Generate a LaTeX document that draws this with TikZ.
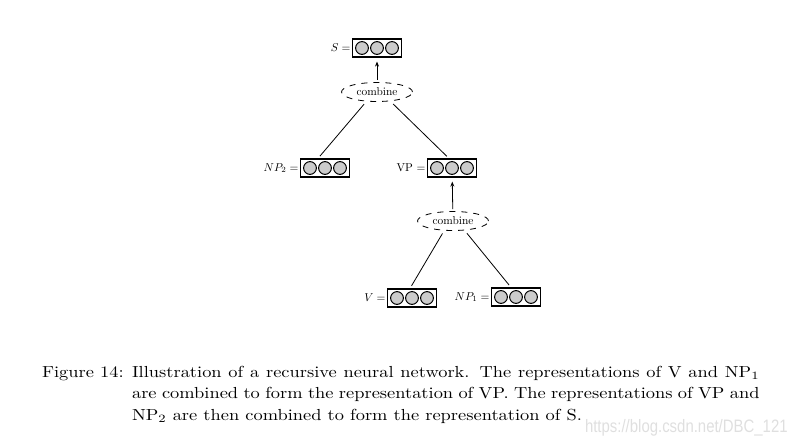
\documentclass[tikz,border=0pt]{standalone}
\usepackage{fontspec}
\newfontfamily\wmfont{Liberation Sans}
\usetikzlibrary{shapes.geometric,arrows.meta}
\tikzset{
  vec/.style={draw,line width=.6pt,minimum width=24.5pt,minimum height=9pt,inner sep=0pt},
  unit/.style={draw,line width=.5pt,fill=gray!40},
  comb/.style={draw,dashed,ellipse,minimum width=35.5pt,minimum height=9.5pt,inner sep=0pt},
  small/.style={scale=.57,transform shape},
  lab/.style={small,inner sep=1pt},
  capfont/.style={xscale=.92,yscale=.8,transform shape,inner sep=0pt,font=\fontsize{10}{13.3}\selectfont},
  link/.style={shorten <=1.5pt,shorten >=1.5pt},
  up/.style={-{Stealth[length=2.5pt,width=2pt]},shorten <=1pt,shorten >=2pt}
}
\begin{document}
\begin{tikzpicture}[x=.5pt,y=-.5pt,line width=.4pt]
  \useasboundingbox (0,0) rectangle (797,445);
  % vectors and combiners
  \node[vec,label={[lab]left:$S =$}] (S) at (377,48) {};
  \node[comb] (top) at (377,92) {};
  \node[small] at (top) {combine};
  \node[vec,label={[lab]left:$NP_2 =$}] (NP2) at (325,168) {};
  \node[vec,label={[lab]left:VP $=$}] (VP) at (452,168) {};
  \node[comb] (mid) at (453,221) {};
  \node[small] at (mid) {combine};
  \node[vec,label={[lab]left:$V =$}] (V) at (412,298) {};
  \node[vec,label={[lab]left:$NP_1 =$}] (NP1) at (516,297) {};
  % units
  \foreach \n in {S,NP2,VP,V,NP1}
    \foreach \i in {-1,0,1}
      \draw[unit] ([xshift=\i*7.5pt]\n.center) circle (3.2pt);
  % edges
  \draw[link] ([xshift=-3.5pt]NP2.north) -- ([xshift=-5.5pt]top.south);
  \draw[link] ([xshift=-1.5pt]VP.north) -- ([xshift=7pt]top.south);
  \draw[link] ([xshift=-1pt]V.north) -- ([xshift=-4.5pt]mid.south);
  \draw[link] ([xshift=-2.5pt]NP1.north) -- ([xshift=6pt]mid.south);
  \draw[up] (top) -- (S);
  \draw[up] (mid) -- (VP);
  % caption
  \node[capfont,anchor=base west] (fig) at (41.7,377.5) {Figure 14:};
  \node[capfont,anchor=base west,text width=341pt,align=justify] (cap) at (131.7,377.5)
    {Illustration of a recursive neural network.  The representations of V and NP$_1$\linebreak
     are combined to form the representation of VP. The representations of VP and\linebreak
     NP$_2$ are then combined to form the representation of S.};
  \node[anchor=base east,inner sep=0pt,xscale=.83,transform shape,text=gray!25,font=\wmfont\fontsize{9}{10}\selectfont] (wm) at (788,432) {https://blog.csdn.net/DBC\_121};
\end{tikzpicture}
\end{document}
